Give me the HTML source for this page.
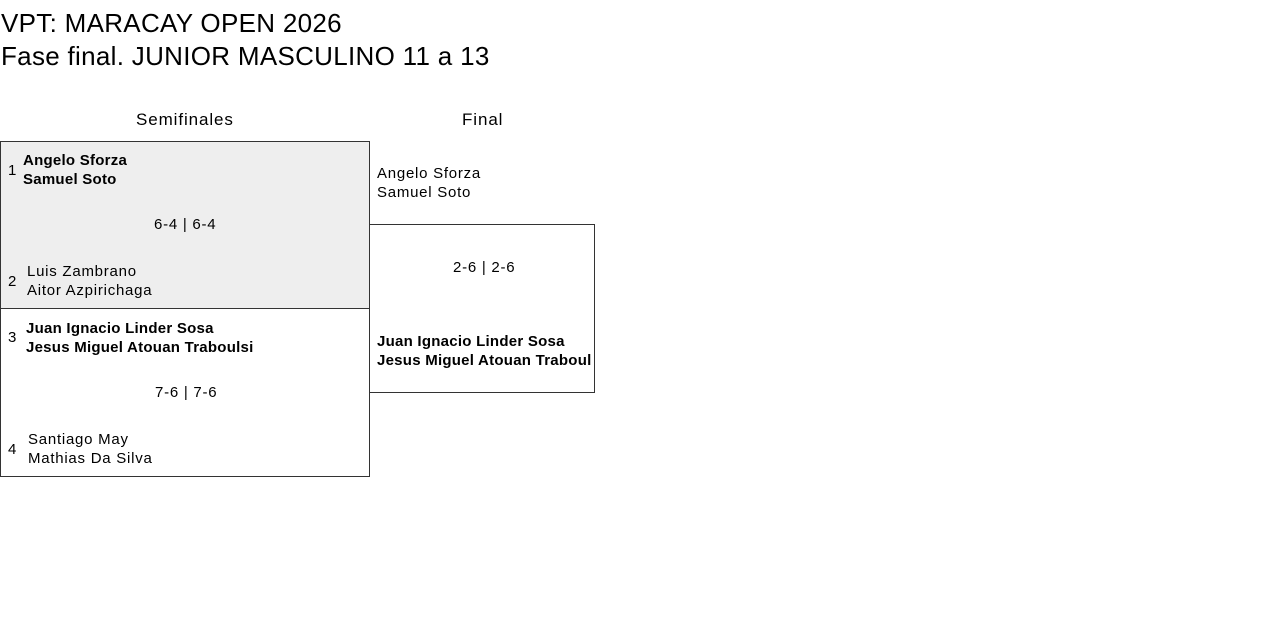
<!DOCTYPE html>
<html><head><meta charset="utf-8"><style>
body{margin:0;width:1280px;height:628px;background:#fff;font-family:"Liberation Sans",sans-serif;color:#000;position:relative;overflow:hidden}
div{position:absolute;white-space:nowrap}
.t{font-size:26px;left:1px;letter-spacing:0.3px;font-weight:500}
.h{font-size:17px;font-weight:500;letter-spacing:0.9px}
.n{font-size:15px;line-height:19px;letter-spacing:0.75px}
.b{font-weight:bold;letter-spacing:0.25px}
.box{border:1px solid #333;box-sizing:border-box}
</style></head><body>
<div class="t" style="top:8px">VPT: MARACAY OPEN 2026</div>
<div class="t" style="top:41px">Fase final. JUNIOR MASCULINO 11 a 13</div>
<div class="h" style="left:136px;top:110px">Semifinales</div>
<div class="h" style="left:462px;top:110px">Final</div>
<div class="box" style="left:0;top:141px;width:370px;height:168px;background:#eeeeee"></div>
<div class="box" style="left:0;top:308px;width:370px;height:169px"></div>
<div class="n" style="left:8px;top:161px">1</div>
<div class="n b" style="left:23px;top:151px">Angelo Sforza<br>Samuel Soto</div>
<div class="n" style="left:154px;top:215px">6-4 | 6-4</div>
<div class="n" style="left:8px;top:272px">2</div>
<div class="n" style="left:27px;top:262px">Luis Zambrano<br>Aitor Azpirichaga</div>
<div class="n" style="left:8px;top:328px">3</div>
<div class="n b" style="left:26px;top:319px">Juan Ignacio Linder Sosa<br>Jesus Miguel Atouan Traboulsi</div>
<div class="n" style="left:155px;top:383px">7-6 | 7-6</div>
<div class="n" style="left:8px;top:440px">4</div>
<div class="n" style="left:28px;top:430px">Santiago May<br>Mathias Da Silva</div>
<div class="n" style="left:377px;top:164px">Angelo Sforza<br>Samuel Soto</div>
<div class="n" style="left:453px;top:258px">2-6 | 2-6</div>
<div class="box" style="left:369px;top:224px;width:226px;height:169px"></div>
<div class="n b" style="left:377px;top:332px;clip-path:inset(0 0 0 0)">Juan Ignacio Linder Sosa<br>Jesus Miguel Atouan Traboul</div>
</body></html>
